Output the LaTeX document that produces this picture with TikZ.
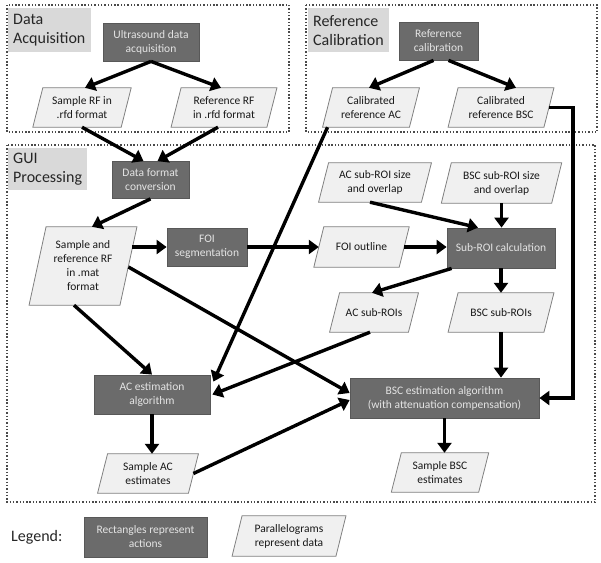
\documentclass[tikz,border=0pt]{standalone}
\usepackage{fontspec}
\setmainfont{Carlito}
\usetikzlibrary{arrows.meta,calc}
\pgfdeclarelayer{back}
\pgfdeclarelayer{bg}
\pgfsetlayers{back,bg,main}
\definecolor{actfill}{HTML}{6B6B6B}
\definecolor{actline}{HTML}{585858}
\definecolor{acttext}{HTML}{E4E4E4}
\definecolor{datfill}{HTML}{F0F0F0}
\definecolor{datline}{HTML}{808080}
\definecolor{labfill}{HTML}{D9D9D9}
\definecolor{framecol}{HTML}{4A4A4A}
\newcommand\paral[2]{\begin{pgfonlayer}{bg}\filldraw[datshape] ($(#1.north west)+(#2,0)$) -- ($(#1.north east)+(#2,0)$) -- ($(#1.south east)+(-#2,0)$) -- ($(#1.south west)+(-#2,0)$) -- cycle;\end{pgfonlayer}}
\begin{document}
\begin{tikzpicture}[x=1pt,y=-1pt,
  act/.style 2 args={draw=actline,line width=0.8pt,fill=actfill,text=acttext,minimum width=#1pt,minimum height=#2pt,inner sep=0pt,align=center,font=\fontsize{11.5}{14}\selectfont},
  dat/.style 2 args={minimum width=#1pt,minimum height=#2pt,inner sep=0pt,align=center,text=black!90,font=\fontsize{11.5}{14}\selectfont},
  datshape/.style={fill=datfill,draw=datline,line width=0.8pt},
  frame/.style={draw=framecol,line width=1.4pt,dash pattern=on 1.4pt off 1.9pt},
  lab/.style={fill=labfill,anchor=north west,inner sep=0pt,inner xsep=5pt,align=left,text width=#1pt,minimum height=44pt,font=\fontsize{16}{19}\selectfont,text=black!85},
  arr/.style={line width=3.4pt,-{Triangle[width=14pt,length=10pt]},line join=miter}]
\useasboundingbox (0,0) rectangle (601,562);
% frames
\begin{pgfonlayer}{back}
\draw[frame] (7,5) rectangle (289,132);
\draw[frame] (306,5) rectangle (597,132);
\draw[frame] (7,145) rectangle (595,502);
\end{pgfonlayer}
\node[lab=73] (labda) at (8,8) {Data\\Acquisition};
\node[lab=71] (labrc) at (308,8) {Reference\\Calibration};
\node[lab=69,minimum height=42pt] (labgui) at (8,148) {GUI\\Processing};
% action nodes
\node[act={96}{38}] (ua) at (151,42) {Ultrasound data\\acquisition};
\node[act={79}{38}] (rc) at (438.5,41) {Reference\\calibration};
\node[act={77}{37}] (dfc) at (150.5,180) {Data format\\conversion};
\node[act={80}{38}] (foi) at (207,247) {FOI\\segmentation};
\node[act={108}{40}] (sub) at (501,248) {Sub-ROI calculation};
\node[act={116}{39}] (acest) at (152,394.5) {AC estimation\\algorithm};
\node[act={189}{40}] (bscest) at (444.5,398) {BSC estimation algorithm\\(with attenuation compensation)};
\node[act={123}{40}] (lgact) at (145.5,537) {Rectangles represent\\actions};
% data nodes
\node[dat={88}{39}] (srf) at (82,107.5) {Sample RF in\\.rfd format};
\node[dat={95.5}{39}] (rrf) at (224,107.5) {Reference RF\\in .rfd format};
\node[dat={86.5}{39}] (cac) at (371,107.5) {Calibrated\\reference AC};
\node[dat={95.5}{39}] (cbsc) at (501,107.5) {Calibrated\\reference BSC};
\node[dat={102.5}{39}] (acsz) at (375,182.5) {AC sub-ROI size\\and overlap};
\node[dat={110}{40}] (bscsz) at (501.5,183) {BSC sub-ROI size\\and overlap};
\node[dat={85}{40}] (foio) at (361.5,247) {FOI outline};
\node[dat={90.5}{78}] (mat) at (83,266) {Sample and\\reference RF\\in .mat\\format};
\node[dat={78.5}{39}] (acsr) at (374,312.5) {AC sub-ROIs};
\node[dat={95.5}{39}] (bscsr) at (501,312.5) {BSC sub-ROIs};
\node[dat={90.5}{39}] (sac) at (148,473.5) {Sample AC\\estimates};
\node[dat={87}{39}] (sbsc) at (440,472.5) {Sample BSC\\estimates};
\node[dat={103.5}{40}] (lgdat) at (289,536) {Parallelograms\\represent data};
\paral{srf}{5}\paral{rrf}{5}\paral{cac}{5}\paral{cbsc}{5}
\paral{acsz}{5}\paral{bscsz}{5}\paral{foio}{5}\paral{mat}{8.5}
\paral{acsr}{5}\paral{bscsr}{5}\paral{sac}{5}\paral{sbsc}{5}\paral{lgdat}{5}
\node[anchor=west,inner sep=0pt,font=\fontsize{16}{19}\selectfont,text=black!85] (lgtxt) at (11,537) {Legend:};
% connectors
\draw[arr] (ua.south) -- ($(srf.north)+(3,0)$);
\draw[arr] (ua.south) -- ($(rrf.north)+(-3,0)$);
\draw[arr] ($(rc.south)+(-5,0)$) -- ($(cac.north)+(-2,0)$);
\draw[arr] ($(rc.south)+(10,0)$) -- ($(cbsc.north)+(15,0)$);
\draw[arr] (srf.south) -- ($(dfc.north)+(-7,0)$);
\draw[arr] ($(rrf.south)+(-6,0)$) -- ($(dfc.north)+(7,0)$);
\draw[arr] (dfc.south) -- ($(mat.north)+(9,0)$);
\draw[arr] ($(mat.east)+(4,-19)$) -- (foi.west);
\draw[arr] (foi.east) -- (foio.west);
\draw[arr] (foio.east) -- (foio.east -| sub.west);
\draw[arr] ($(acsz.south)+(-5,0)$) -- ($(sub.north)+(-23,0)$);
\draw[arr] (bscsz.south) -- (bscsz.south |- sub.north);
\draw[arr] ($(sub.south west)+(5,0)$) -- ($(acsr.north)+(-2,0)$);
\draw[arr] (sub.south) -- (sub.south |- bscsr.north);
\draw[arr] (bscsr.south) -- (bscsr.south |- bscest.north);
\draw[arr] (cbsc.east) -- ++(24,0) |- (bscest.east);
\draw[arr] (cac.south west) -- ($(acest.north east)+(3,7)$);
\draw[arr] ($(acsr.south)+(-4,0)$) -- ($(acest.east)+(2,0)$);
\draw[arr] ($(mat.south)+(-9,0)$) -- (acest.north);
\draw[arr] ($(mat.east)+(0,1)$) -- ($(bscest.west)+(0,-5)$);
\draw[arr] (acest.south) -- (acest.south |- sac.north);
\draw[arr] (sac.east) -- ($(bscest.west)+(0,2)$);
\draw[arr] (bscest.south) -- (bscest.south |- sbsc.north);
\end{tikzpicture}
\end{document}
